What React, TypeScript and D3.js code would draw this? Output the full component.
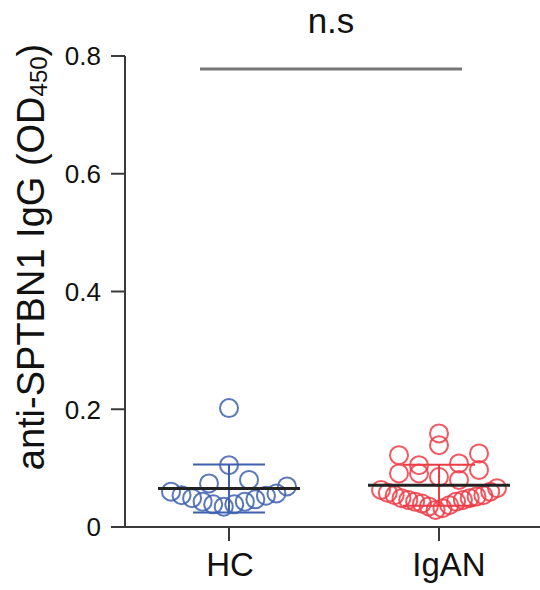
import { useEffect, useRef } from 'react';
import * as d3 from 'd3';

const groups = ['HC', 'IgAN'];
// values in entry order (the dot layout fills each row from the centre out, in this order)
const hcValues = [
  0.0345, 0.0385, 0.0385, 0.043, 0.043, 0.047, 0.049, 0.053, 0.054, 0.057, 0.06, 0.069,
  0.105, 0.074, 0.08, 0.202,
];
const iganValues = [
  0.029, 0.032, 0.035, 0.037, 0.04, 0.043, 0.043, 0.046, 0.046, 0.049, 0.049, 0.052,
  0.054, 0.054, 0.058, 0.06, 0.063, 0.066,
  0.085, 0.091, 0.08, 0.091, 0.097,
  0.139, 0.105, 0.108, 0.122, 0.125, 0.159,
];
const yTicks = [0, 0.2, 0.4, 0.6, 0.8];
const bracketValue = 0.778;
const colors = ['#3d61ae', '#ee3b45'];

const FONT = '"Liberation Sans", Arial, Helvetica, sans-serif';

// Prism-like scatter: bin values into rows, spread each row from the centre
function rowLayout(vals: number[], rowH: number, gap: number, maxHalf: number) {
  const lo = d3.min(vals)!;
  const rows = d3.group(vals.map((v, i) => ({ v, i })), (d) => Math.floor((d.v - lo) / rowH + 1e-9));
  const out: number[] = new Array(vals.length).fill(0);
  rows.forEach((pts) => {
    const n = pts.length;
    const s = n > 1 ? Math.min(gap, (2 * maxHalf) / (n - 1)) : 0;
    const slots = d3.range(n).map((k) => (k - (n - 1) / 2) * s)
      .sort((a, b) => Math.abs(a) - Math.abs(b) || a - b);
    pts.forEach((p, k) => { out[p.i] = slots[k]; });
  });
  return out;
}

const App = () => {
  const ref = useRef<SVGSVGElement>(null);

  useEffect(() => {
    const svg = d3.select(ref.current);
    svg.selectAll('*').remove();

    const y = d3.scaleLinear().domain([0, 0.8]).range([527, 56]);
    const x = d3.scalePoint<string>().domain(groups).range([229, 439]);
    const axisColor = '#3a3a3a';

    // y axis
    svg.append('line')
      .attr('x1', 125).attr('x2', 125)
      .attr('y1', y(0.8)).attr('y2', y(0) + 1)
      .attr('stroke', axisColor).attr('stroke-width', 2);
    const yt = svg.append('g');
    yTicks.forEach((t) => {
      yt.append('line')
        .attr('x1', 111).attr('x2', 125)
        .attr('y1', y(t)).attr('y2', y(t))
        .attr('stroke', axisColor).attr('stroke-width', 2);
      yt.append('text')
        .attr('x', 101).attr('y', y(t))
        .attr('dy', '0.36em')
        .attr('text-anchor', 'end')
        .attr('font-size', 26)
        .attr('font-family', FONT)
        .attr('fill', '#111')
        .text(t === 0 ? '0' : d3.format('.1f')(t));
    });

    // x axis
    svg.append('line')
      .attr('x1', 124).attr('x2', 540)
      .attr('y1', y(0)).attr('y2', y(0))
      .attr('stroke', axisColor).attr('stroke-width', 2);
    groups.forEach((g, gi) => {
      svg.append('line')
        .attr('x1', x(g)!).attr('x2', x(g)!)
        .attr('y1', y(0)).attr('y2', y(0) + 14)
        .attr('stroke', axisColor).attr('stroke-width', 2);
      svg.append('text')
        .attr('x', x(g)! + (gi === 1 ? 10 : 1))
        .attr('y', 576)
        .attr('text-anchor', 'middle')
        .attr('font-size', 33)
        .attr('font-family', FONT)
        .attr('fill', '#111')
        .text(g);
    });

    // y label
    const yl = svg.append('text')
      .attr('transform', 'translate(44, 257) rotate(-90)')
      .attr('text-anchor', 'middle')
      .attr('font-size', 38)
      .attr('font-family', FONT)
      .attr('fill', '#111');
    yl.append('tspan').text('anti-SPTBN1 IgG (OD');
    yl.append('tspan').attr('font-size', 24).attr('dy', 3).text('450');
    yl.append('tspan').attr('dy', -3).text(')');

    // points, error bars, means
    [hcValues, iganValues].forEach((vals, gi) => {
      const cx = x(groups[gi])!;
      const col = colors[gi];
      const offs = rowLayout(vals, 0.0375, 20, 58);
      svg.append('g').selectAll('circle').data(vals).enter().append('circle')
        .attr('cx', (_, i) => cx + offs[i])
        .attr('cy', (v) => y(v))
        .attr('r', 9)
        .attr('fill', 'none')
        .attr('stroke', col)
        .attr('stroke-width', 2)
        .attr('stroke-opacity', 0.85);

      const m = d3.mean(vals)!;
      const sd = d3.deviation(vals)!;
      const eb = svg.append('g').attr('stroke', col).attr('stroke-width', 2);
      eb.append('line').attr('x1', cx).attr('x2', cx).attr('y1', y(m - sd)).attr('y2', y(m + sd));
      [m - sd, m + sd].forEach((v) => {
        eb.append('line').attr('x1', cx - 36).attr('x2', cx + 36).attr('y1', y(v)).attr('y2', y(v));
      });
      svg.append('line')
        .attr('x1', cx - 71).attr('x2', cx + 71)
        .attr('y1', y(m)).attr('y2', y(m))
        .attr('stroke', '#222').attr('stroke-width', 3);
    });

    // significance bracket
    svg.append('line')
      .attr('x1', 200).attr('x2', 462)
      .attr('y1', y(bracketValue)).attr('y2', y(bracketValue))
      .attr('stroke', '#777').attr('stroke-width', 3);
    svg.append('text')
      .attr('x', 331).attr('y', 33)
      .attr('text-anchor', 'middle')
      .attr('font-size', 35)
      .attr('font-family', FONT)
      .attr('fill', '#111')
      .text('n.s');
  }, []);

  return (
    <svg
      ref={ref}
      width={540}
      height={590}
      style={{ position: 'absolute', left: 0, top: 0, background: '#fff' }}
    />
  );
};

export default App;
